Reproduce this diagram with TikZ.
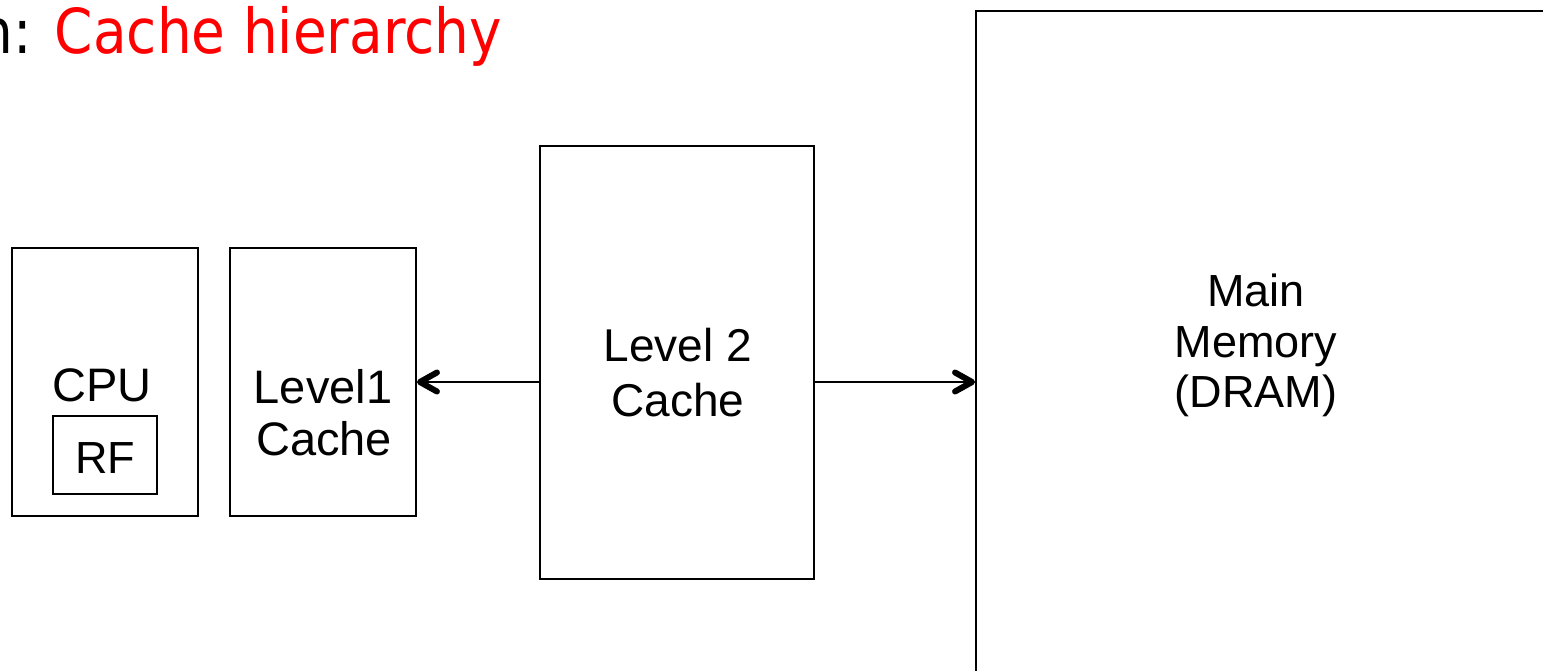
\documentclass[tikz,border=0pt]{standalone}
\usepackage{fontspec}
\usepackage{graphicx}
\setmainfont{Liberation Sans}
\newfontfamily\titlefont{DejaVu Sans}
\begin{document}
\begin{tikzpicture}[x=1pt,y=-1pt,
  box/.style={draw, line width=1.9pt, inner sep=0pt},
  lbl/.style={font=\fontsize{47}{53}\selectfont, inner sep=0pt, anchor=base},
  conn/.style={line width=2.2pt},
  chevron/.style={line width=6pt, line cap=round, line join=round}]
\useasboundingbox (0,0) rectangle (1543,670);
\clip (0,0) rectangle (1543,670);
% title
\node[anchor=base east, inner sep=0pt, font=\titlefont\fontsize{62}{70}\selectfont] (title) at (502,53)
  {\scalebox{0.885}[1]{n: \textcolor{red}{Cache hierarchy}}};
% boxes
\node[box, minimum width=186pt, minimum height=268pt] (cpu) at (105,382) {};
\node[box, line width=1.6pt, minimum width=104pt, minimum height=78pt] (rf) at (105,455) {};
\node[box, minimum width=186pt, minimum height=268pt] (l1) at (323,382) {};
\node[box, minimum width=274pt, minimum height=433pt] (l2) at (677,362.5) {};
\node[box, minimum width=624pt, minimum height=689pt] (mem) at (1288,355.5) {};
% labels
\node[lbl] (cputxt) at (102,401) {CPU};
\node[lbl, font=\fontsize{45}{53}\selectfont] (rftxt) at (105,473) {RF};
\node[lbl] (l1a) at (323,403) {Level1};
\node[lbl] (l1b) at (324,455) {Cache};
\node[lbl, font=\fontsize{46}{53}\selectfont] (l2a) at (678,361) {Level 2};
\node[lbl, font=\fontsize{46}{53}\selectfont] (l2b) at (678,416) {Cache};
\node[lbl, font=\fontsize{45}{53}\selectfont] (mema) at (1256,306) {Main};
\node[lbl, font=\fontsize{45}{53}\selectfont] (memb) at (1256,357) {Memory};
\node[lbl, font=\fontsize{45}{53}\selectfont] (memc) at (1256,407) {(DRAM)};
% connectors
\coordinate (tipL) at ([xshift=3pt]l1.east);
\coordinate (tipR) at (mem.west |- l1.east);
\coordinate (tipR) at ([xshift=-3pt]tipR);
\draw[conn] (l2.west |- l1.east) -- (tipL);
\draw[chevron] ([xshift=17pt,yshift=9.5pt]tipL) -- (tipL) -- ([xshift=17pt,yshift=-9.5pt]tipL);
\draw[conn] (l2.east |- l1.east) -- (tipR);
\draw[chevron] ([xshift=-17pt,yshift=9.5pt]tipR) -- (tipR) -- ([xshift=-17pt,yshift=-9.5pt]tipR);
\end{tikzpicture}
\end{document}
